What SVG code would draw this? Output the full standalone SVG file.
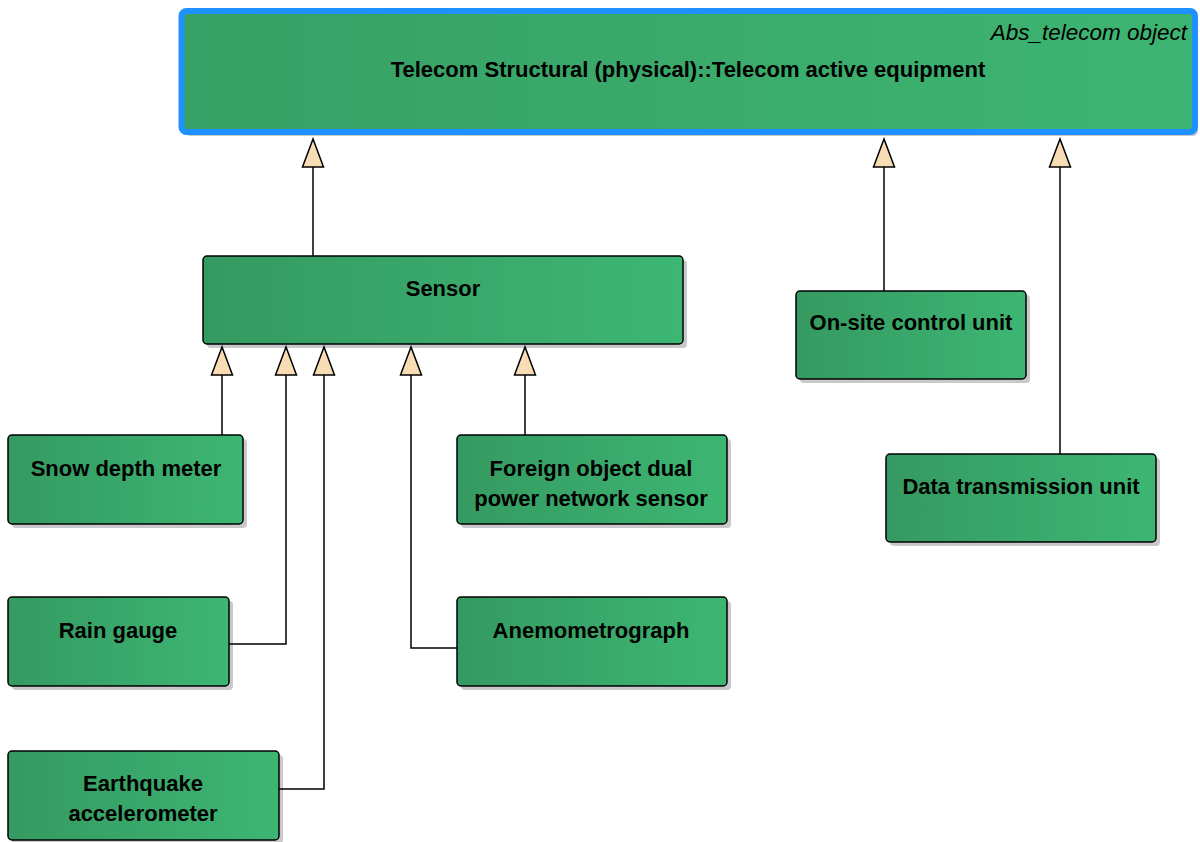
<svg xmlns="http://www.w3.org/2000/svg" width="1200" height="842" viewBox="0 0 1200 842">
<defs>
<linearGradient id="g" x1="0" y1="0" x2="1" y2="0">
<stop offset="0" stop-color="#359a61"/>
<stop offset="1" stop-color="#3db673"/>
</linearGradient>
<linearGradient id="gt" x1="0" y1="0" x2="1" y2="0">
<stop offset="0" stop-color="#37a064"/>
<stop offset="1" stop-color="#3db572"/>
</linearGradient>
<style>
.box{fill:url(#g);stroke:#000;stroke-width:1.5}
.sh{fill:#c9c9cc}
.t{font-family:"Liberation Sans",Arial,sans-serif;font-weight:bold;font-size:22px;fill:#000;text-anchor:middle}
.it{font-family:"Liberation Sans",Arial,sans-serif;font-style:italic;font-size:22.5px;fill:#000;text-anchor:end}
.c{fill:none;stroke:#000;stroke-width:1.5}
.tri{fill:#f7dcb4;stroke:#000;stroke-width:1.5;stroke-linejoin:miter}
</style>
</defs>
<rect width="1200" height="842" fill="#fff"/>
<g id="node-telecom">
<rect x="185" y="15" width="1013" height="121" rx="5" class="sh"/>
<rect x="181.5" y="11" width="1013.5" height="121" rx="5" fill="url(#gt)" stroke="#1e90ff" stroke-width="6"/>
<text class="it" x="1187" y="40">Abs_telecom object</text>
<text class="t" x="688" y="77">Telecom Structural (physical)::Telecom active equipment</text>
</g>
<g id="node-sensor">
<rect x="207" y="260" width="480" height="88" rx="4" class="sh"/>
<rect x="203" y="256" width="480" height="88" rx="4" class="box"/>
<text class="t" x="443" y="296">Sensor</text>
</g>
<g id="node-snow">
<rect x="12" y="439" width="235" height="89" rx="4" class="sh"/>
<rect x="8" y="435" width="235" height="89" rx="4" class="box"/>
<text class="t" x="126" y="476">Snow depth meter</text>
</g>
<g id="node-foreign">
<rect x="461" y="439" width="270" height="89" rx="4" class="sh"/>
<rect x="457" y="435" width="270" height="89" rx="4" class="box"/>
<text class="t" x="591" y="476">Foreign object dual</text>
<text class="t" x="591" y="506">power network sensor</text>
</g>
<g id="node-rain">
<rect x="12" y="601" width="221" height="89" rx="4" class="sh"/>
<rect x="8" y="597" width="221" height="89" rx="4" class="box"/>
<text class="t" x="118" y="638">Rain gauge</text>
</g>
<g id="node-anemo">
<rect x="461" y="601" width="270" height="89" rx="4" class="sh"/>
<rect x="457" y="597" width="270" height="89" rx="4" class="box"/>
<text class="t" x="591" y="638">Anemometrograph</text>
</g>
<g id="node-earthquake">
<rect x="12" y="755" width="271" height="89" rx="4" class="sh"/>
<rect x="8" y="751" width="271" height="89" rx="4" class="box"/>
<text class="t" x="143" y="791">Earthquake</text>
<text class="t" x="143" y="821">accelerometer</text>
</g>
<g id="node-onsite">
<rect x="800" y="295" width="230" height="88" rx="4" class="sh"/>
<rect x="796" y="291" width="230" height="88" rx="4" class="box"/>
<text class="t" x="911" y="330">On-site control unit</text>
</g>
<g id="node-data">
<rect x="890" y="458" width="270" height="88" rx="4" class="sh"/>
<rect x="886" y="454" width="270" height="88" rx="4" class="box"/>
<text class="t" x="1021" y="494">Data transmission unit</text>
</g>
<g id="connectors">
<path class="c" d="M313,256 V167"/>
<path class="c" d="M884,291 V167"/>
<path class="c" d="M1060,454 V167"/>
<path class="c" d="M222,435 V375"/>
<path class="c" d="M229,644 H286 V375"/>
<path class="c" d="M279,789 H324 V375"/>
<path class="c" d="M457,648 H411 V375"/>
<path class="c" d="M525,435 V375"/>
<polygon class="tri" points="313,139 302.5,167 323.5,167"/>
<polygon class="tri" points="884,139 873.5,167 894.5,167"/>
<polygon class="tri" points="1060,139 1049.5,167 1070.5,167"/>
<polygon class="tri" points="222,347 211.5,375 232.5,375"/>
<polygon class="tri" points="286,347 275.5,375 296.5,375"/>
<polygon class="tri" points="324,347 313.5,375 334.5,375"/>
<polygon class="tri" points="411,347 400.5,375 421.5,375"/>
<polygon class="tri" points="525,347 514.5,375 535.5,375"/>
</g>
</svg>
